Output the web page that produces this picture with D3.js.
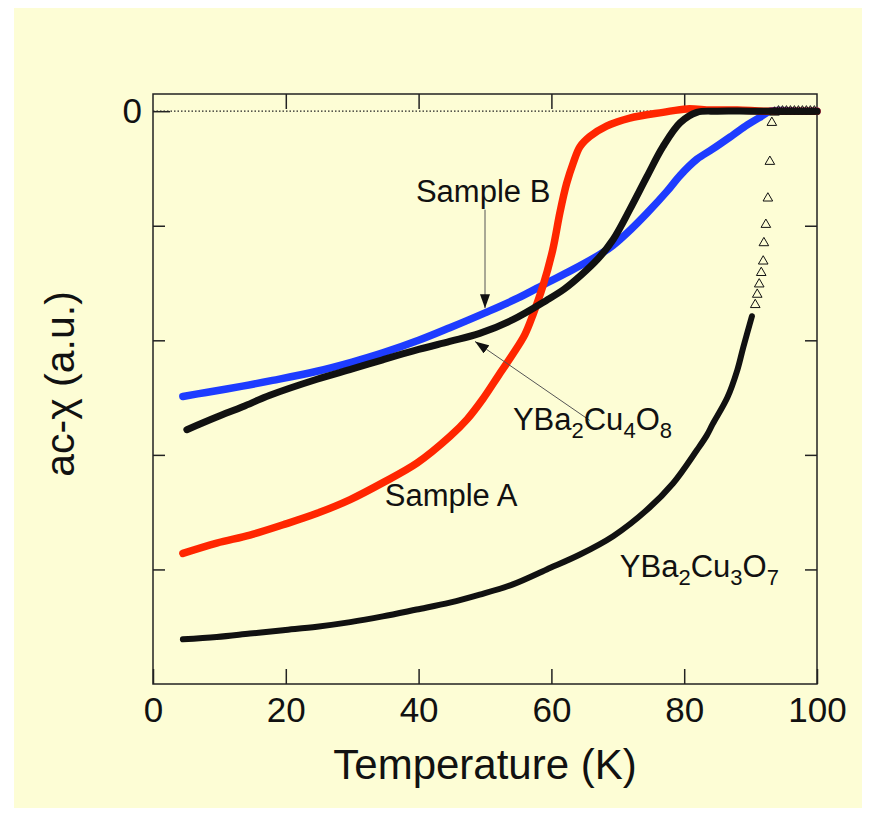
<!DOCTYPE html>
<html>
<head>
<meta charset="utf-8">
<script src="https://cdn.jsdelivr.net/npm/d3@7"></script>
<style>
  body { margin: 0; background: #fff; }
  svg { display: block; }
  text { font-family: "Liberation Sans", Arial, Helvetica, sans-serif; fill: #111; }
</style>
</head>
<body>
<div class="chart"></div>
<script>
// temperatures (K) and ac-chi values (a.u.)
const sampleA_T = [4.5, 9.6, 14.6, 19.6, 24.7, 29.7, 34.7, 39.8, 44.7, 47.3, 49.7, 52, 54.2, 56, 57.2, 58.7, 60.2, 61.3, 62.3, 63.3, 64.3, 65.8, 68.3, 71.8, 76.8, 80.4, 84, 88, 92, 96, 100];
const sampleA_V = [-3.86, -3.77, -3.70, -3.61, -3.51, -3.39, -3.24, -3.07, -2.84, -2.69, -2.51, -2.31, -2.12, -1.95, -1.78, -1.53, -1.21, -0.88, -0.63, -0.45, -0.31, -0.22, -0.13, -0.06, -0.01, 0.02, 0.01, 0.01, 0, 0, 0];

const sampleB_T = [4.5, 8, 13.5, 18, 24.7, 30, 34.6, 40, 44.7, 50, 55, 59.3, 63, 67.3, 69.3, 72, 74.4, 77.4, 79.4, 81.9, 84.3, 87.3, 89.5, 91.5, 93, 97, 100];
const sampleB_V = [-2.49, -2.455, -2.40, -2.35, -2.27, -2.19, -2.11, -2.00, -1.89, -1.76, -1.63, -1.50, -1.39, -1.25, -1.17, -1.03, -0.89, -0.70, -0.56, -0.42, -0.33, -0.21, -0.12, -0.05, 0, 0, 0];

const y248_T = [5.1, 9.6, 13.5, 17.6, 24.7, 30, 34.6, 40, 44.7, 49.2, 54.2, 59.3, 62, 64.3, 67, 69.3, 71.8, 74.4, 76.8, 79.4, 81.9, 85, 90, 95, 100];
const y248_V = [-2.78, -2.67, -2.58, -2.48, -2.34, -2.25, -2.17, -2.08, -2.01, -1.94, -1.82, -1.65, -1.55, -1.44, -1.29, -1.12, -0.86, -0.57, -0.31, -0.10, -0.01, 0, 0, 0, 0];

const y123_T = [4.5, 9.6, 14.6, 19.6, 24.7, 29.7, 34.6, 39.7, 44.7, 49.2, 54.2, 59.3, 64.3, 69.3, 74.4, 78.3, 81.9, 83.4, 84.3, 86.5, 88, 88.9, 90.2];
const y123_V = [-4.61, -4.59, -4.56, -4.53, -4.50, -4.46, -4.41, -4.35, -4.29, -4.22, -4.13, -4.00, -3.87, -3.71, -3.48, -3.25, -2.96, -2.83, -2.73, -2.50, -2.26, -2.06, -1.79];
// the sparse open triangles of YBa2Cu3O7 near Tc
const y123s_T = [90.7, 91.0, 91.3, 91.6, 91.9, 92.0, 92.3, 92.6, 92.9, 93.2, 93.6, 94.2, 94.8, 95.4, 96.0, 96.6, 97.2, 97.8, 98.4, 99.0, 99.6];
const y123s_V = [-1.69, -1.60, -1.51, -1.41, -1.31, -1.15, -0.99, -0.76, -0.44, -0.10, -0.01, 0, 0, 0, 0, 0, 0, 0, 0, 0, 0];

const xTicks = [0, 20, 40, 60, 80, 100];
const yTicks = [0, -1, -2, -3, -4];

const zip = (t, v) => t.map((d, i) => [d, v[i]]);

const W = 874, H = 819;
const margin = { top: 94, right: 57, bottom: 135, left: 153 };
const width = W - margin.left - margin.right;
const height = H - margin.top - margin.bottom;

const x = d3.scaleLinear().domain([0, 100]).range([0, width]);
const y = d3.scaleLinear().domain([-5, 0.15]).range([height, 0]);

const svg = d3.select('.chart').append('svg').attr('width', W).attr('height', H);
svg.append('rect').attr('x', 14).attr('y', 8).attr('width', 848).attr('height', 800).attr('fill', '#fdfdd5');

const g = svg.append('g').attr('transform', `translate(${margin.left},${margin.top})`);

// dotted zero line
g.append('line')
  .attr('x1', 0).attr('x2', width)
  .attr('y1', y(0)).attr('y2', y(0))
  .attr('stroke', '#222').attr('stroke-width', 1.2).attr('stroke-dasharray', '1.5,2');

// axes with inward ticks
const axBottom = g.append('g').attr('transform', `translate(0,${height})`)
  .call(d3.axisBottom(x).tickValues(xTicks).tickSizeInner(-15).tickSizeOuter(0).tickPadding(13));
const axTop = g.append('g')
  .call(d3.axisTop(x).tickValues(xTicks.slice(1, -1)).tickSizeInner(-15).tickSizeOuter(0).tickFormat(''));
const axLeft = g.append('g')
  .call(d3.axisLeft(y).tickValues(yTicks).tickSizeInner(-12).tickSizeOuter(0).tickPadding(11)
    .tickFormat(d => d === 0 ? '0' : ''));
const axRight = g.append('g').attr('transform', `translate(${width},0)`)
  .call(d3.axisRight(y).tickValues(yTicks.slice(1)).tickSizeInner(-12).tickSizeOuter(0).tickFormat(''));

axLeft.selectAll('.tick line').filter(d => d === 0).attr('x2', 17);
[axBottom, axTop, axLeft, axRight].forEach(a => {
  a.select('.domain').remove();
  a.selectAll('.tick line').attr('stroke', '#222').attr('stroke-width', 1.5);
  a.selectAll('text').style('font-size', '35px').style('font-family', '"Liberation Sans", Arial, sans-serif').attr('fill', '#111');
});

g.append('rect').attr('width', width).attr('height', height)
  .attr('fill', 'none').attr('stroke', '#222').attr('stroke-width', 1.5);

const line = d3.line().x(d => x(d[0])).y(d => y(d[1])).curve(d3.curveCatmullRom.alpha(0.5));

function drawSeries(data, color, w) {
  g.append('path').datum(data)
    .attr('d', line)
    .attr('fill', 'none').attr('stroke', color).attr('stroke-width', w)
    .attr('stroke-linecap', 'round').attr('stroke-linejoin', 'round');
}

drawSeries(zip(sampleB_T, sampleB_V), '#1e3cff', 7.5);
drawSeries(zip(sampleA_T, sampleA_V), '#ff2600', 7.5);
drawSeries(zip(y248_T, y248_V), '#111', 7);
drawSeries(zip(y123_T, y123_V), '#111', 6);

g.selectAll('.sparse').data(zip(y123s_T, y123s_V)).enter().append('path')
  .attr('class', 'sparse')
  .attr('transform', d => `translate(${x(d[0])},${y(d[1])})`)
  .attr('d', d3.symbol().type(d3.symbolTriangle).size(40))
  .attr('fill', 'none').attr('stroke', '#111').attr('stroke-width', 1);

// annotations (data coordinates)
const defs = svg.append('defs');
defs.append('marker').attr('id', 'arr').attr('viewBox', '0 0 14 10')
  .attr('refX', 14).attr('refY', 5).attr('markerWidth', 14).attr('markerHeight', 10)
  .attr('markerUnits', 'userSpaceOnUse').attr('orient', 'auto')
  .append('path').attr('d', 'M0,0 L14,5 L0,10 Z').attr('fill', '#111');

const arrows = [
  { from: [50, -0.86], to: [50, -1.72] },
  { from: [65.8, -2.70], to: [48.5, -2.01] }
];
g.selectAll('.arrow').data(arrows).enter().append('line')
  .attr('class', 'arrow')
  .attr('x1', d => x(d.from[0])).attr('y1', d => y(d.from[1]))
  .attr('x2', d => x(d.to[0])).attr('y2', d => y(d.to[1]))
  .attr('stroke', '#555').attr('stroke-width', 1)
  .attr('marker-end', 'url(#arr)');

const labels = [
  { t: 39.6, v: -0.79, parts: [['Sample B', false]] },
  { t: 34.9, v: -3.45, parts: [['Sample A', false]] },
  { t: 54.2, v: -2.78, parts: [['YBa', false], ['2', true], ['Cu', false], ['4', true], ['O', false], ['8', true]] },
  { t: 70.3, v: -4.07, parts: [['YBa', false], ['2', true], ['Cu', false], ['3', true], ['O', false], ['7', true]] }
];
labels.forEach(l => {
  const tx = g.append('text').attr('x', x(l.t)).attr('y', y(l.v)).style('font-size', '31px');
  let shifted = false;
  l.parts.forEach(([s, sub]) => {
    const ts = tx.append('tspan').text(s);
    if (sub && !shifted) { ts.attr('dy', 8).style('font-size', '22px'); shifted = true; }
    else if (sub) { ts.style('font-size', '22px'); }
    else if (shifted) { ts.attr('dy', -8); shifted = false; }
  });
});

// axis titles
svg.append('text')
  .attr('x', margin.left + width / 2).attr('y', 779)
  .attr('text-anchor', 'middle').style('font-size', '42px')
  .text('Temperature (K)');
svg.append('text')
  .attr('transform', 'translate(74,384) rotate(-90)')
  .attr('text-anchor', 'middle').style('font-size', '41px')
  .text('ac-χ (a.u.)');
</script>
</body>
</html>
